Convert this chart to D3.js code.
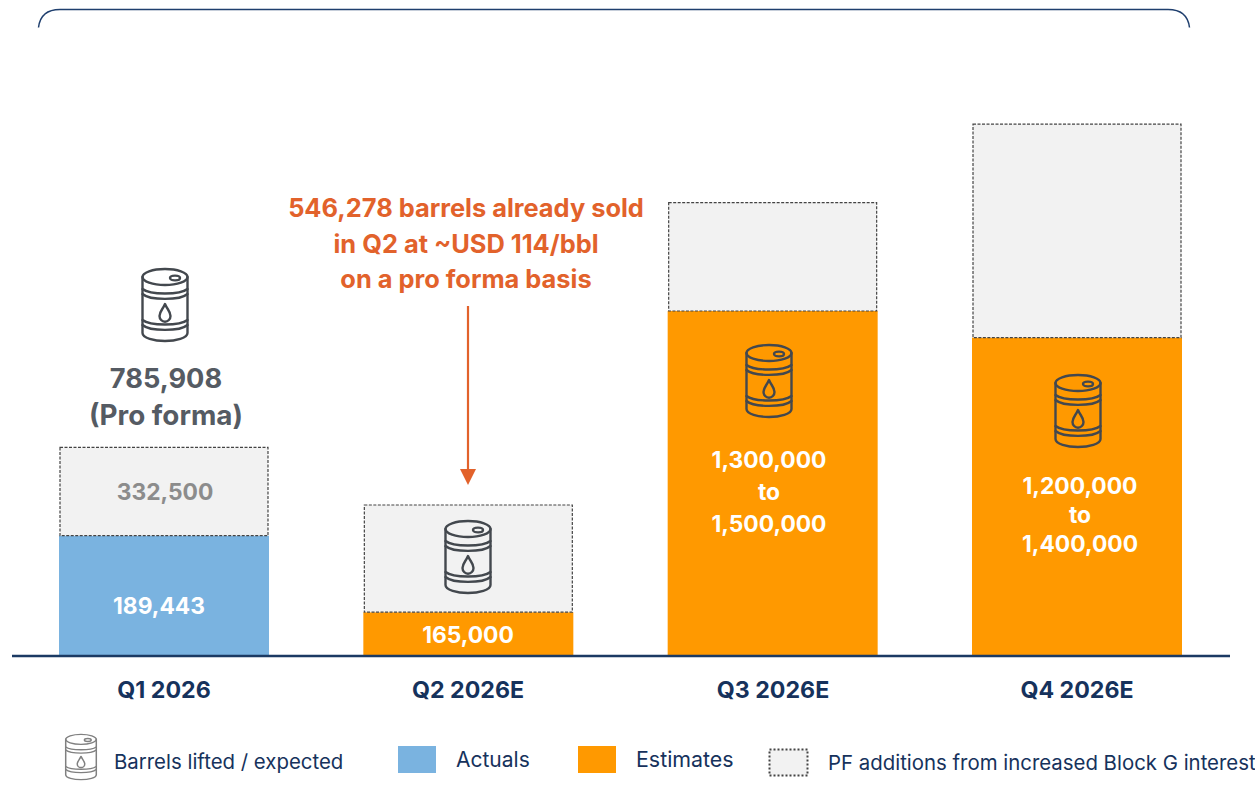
<!DOCTYPE html>
<html><head><meta charset="utf-8">
<script src="https://cdn.jsdelivr.net/npm/d3@7"></script>
<style>html,body{margin:0;padding:0;background:#fff;overflow:hidden}svg{display:block}text{font-family:Inter,"Noto Sans",sans-serif}</style>
</head><body><div id="c"></div>
<script>
// Data
const categories = ["Q1 2026","Q2 2026E","Q3 2026E","Q4 2026E"];
const drawnBase = [453408,165000,1300000,1200000];   // height of the solid bar
const drawnPF = [332500,404000,408000,804000];       // height of the dashed PF block
const baseKinds = ["actual","estimate","estimate","estimate"];
const baseLabels = [["189,443"],["165,000"],["1,300,000","to","1,500,000"],["1,200,000","to","1,400,000"]];
const pfLabels = ["332,500",null,null,null];
const totalLabels = ["785,908","(Pro forma)"];
const noteLines = ["546,278 barrels already sold","in Q2 at ~USD 114/bbl","on a pro forma basis"];
const legendLabels = ["Barrels lifted / expected","Actuals","Estimates","PF additions from increased Block G interest"];

const W=1255,H=786;
const svg=d3.select("#c").append("svg").attr("width",W).attr("height",H);
const navy="#16325c",orange="#ff9900",blue="#7ab3e0",pfFill="#f2f2f2",note="#e2622b",grey="#555b63";
const x=d3.scaleBand().domain(categories).range([59,1182]).paddingInner(0.31);
const y=d3.scaleLinear().domain([0,1300000]).range([656,311]);
const fill=k=>k==="actual"?blue:orange;

// top bracket
svg.append("path").attr("fill","none").attr("stroke","#1f3f6e").attr("stroke-width",1.5)
 .attr("d","M38.5,27.5 C40,15 48,9.5 60,9.5 L1168,9.5 C1180,9.5 1188,15 1189.5,27.5");

// solid bars
svg.selectAll("rect.base").data(categories).join("rect").attr("class","base")
 .attr("x",d=>x(d)).attr("width",x.bandwidth())
 .attr("y",(d,i)=>y(drawnBase[i])).attr("height",(d,i)=>y(0)-y(drawnBase[i]))
 .attr("fill",(d,i)=>fill(baseKinds[i]));
// PF blocks
svg.selectAll("rect.pf").data(categories).join("rect").attr("class","pf")
 .attr("x",d=>x(d)+1).attr("width",x.bandwidth()-2)
 .attr("y",(d,i)=>y(drawnBase[i]+drawnPF[i])).attr("height",(d,i)=>y(0)-y(drawnPF[i]))
 .attr("fill",pfFill).attr("stroke","#444").attr("stroke-width",1.2).attr("stroke-dasharray","3 1.5");

// baseline
svg.append("line").attr("x1",12).attr("x2",1230).attr("y1",656).attr("y2",656).attr("stroke","#1b3a63").attr("stroke-width",2.5);

// barrel icon
function barrel(g,stroke,sw){
 const a=g.append("g").attr("fill","none").attr("stroke",stroke).attr("stroke-width",sw).attr("stroke-linejoin","round").attr("stroke-linecap","round");
 a.append("ellipse").attr("cx",0).attr("cy",-28).attr("rx",22.5).attr("ry",8);
 a.append("ellipse").attr("cx",10).attr("cy",-27).attr("rx",5).attr("ry",2.4);
 a.append("path").attr("d","M-22.5,-28 L-22.5,28 C-22.5,33 -11,36 0,36 C11,36 22.5,33 22.5,28 L22.5,-28");
 a.append("path").attr("d","M-22.5,-16 C-15,-10 15,-10 22.5,-16");
 a.append("path").attr("d","M-22.5,-11 C-15,-4.5 15,-4.5 22.5,-11");
 a.append("path").attr("d","M-22.5,15 C-15,21 15,21 22.5,15");
 a.append("path").attr("d","M-22.5,20 C-15,26.5 15,26.5 22.5,20");
 a.append("path").attr("d","M0,-1 C2,4 5.5,6.5 5.5,11 A5.5,5.7 0 0 1 -5.5,11 C-5.5,6.5 -2,4 0,-1 Z");
}
const iconSpots=[[165,305],[468,557],[769,381],[1078,411]];
iconSpots.forEach(p=>barrel(svg.append("g").attr("transform",`translate(${p[0]},${p[1]})`),"#43484e",2.4));

function txt(s,cx,by,size,color,weight,anchor){
 return svg.append("text").attr("x",cx).attr("y",by).attr("text-anchor",anchor||"middle")
  .attr("font-size",size).attr("font-weight",weight||700).attr("fill",color).text(s);
}
// total
txt(totalLabels[0],166,388,27.2,grey);
txt(totalLabels[1],166,425,27.8,grey);
// pf label
txt(pfLabels[0],165,500,22.8,"#8c8c8c");
// bar labels
const labelSpots=[[159,[614]],[468,[643]],[769,[468,500,532]],[1080,[494,523,552]]];
baseLabels.forEach((ls,i)=>ls.forEach((s,j)=>txt(s,labelSpots[i][0],labelSpots[i][1][j],22.8,"#fff")));
// categories
const catX=[164,468,773,1077];
categories.forEach((c,i)=>txt(c,catX[i],698,23.2,navy));
// note
noteLines.forEach((s,i)=>txt(s,466,217+i*35.5,25.4,note));
svg.append("line").attr("x1",468).attr("x2",468).attr("y1",306).attr("y2",470).attr("stroke",note).attr("stroke-width",2.2);
svg.append("path").attr("d","M460,469 L476,469 L468,485 Z").attr("fill",note);

// legend
barrel(svg.append("g").attr("transform","translate(81,757) scale(0.68,0.63)"),"#808080",2.2);
txt(legendLabels[0],114,769,20.4,navy,400,"start");
svg.append("rect").attr("x",398).attr("y",746).attr("width",38).attr("height",27).attr("fill",blue);
txt(legendLabels[1],456,767,21,navy,400,"start");
svg.append("rect").attr("x",578).attr("y",746).attr("width",38).attr("height",27).attr("fill",orange);
txt(legendLabels[2],636,767,21.4,navy,400,"start");
svg.append("rect").attr("x",769.5).attr("y",749.5).attr("width",38).attr("height",26).attr("fill",pfFill)
 .attr("stroke","#444").attr("stroke-width",2).attr("stroke-dasharray","2 2");
txt(legendLabels[3],828,770,20.4,navy,400,"start");
</script></body></html>
